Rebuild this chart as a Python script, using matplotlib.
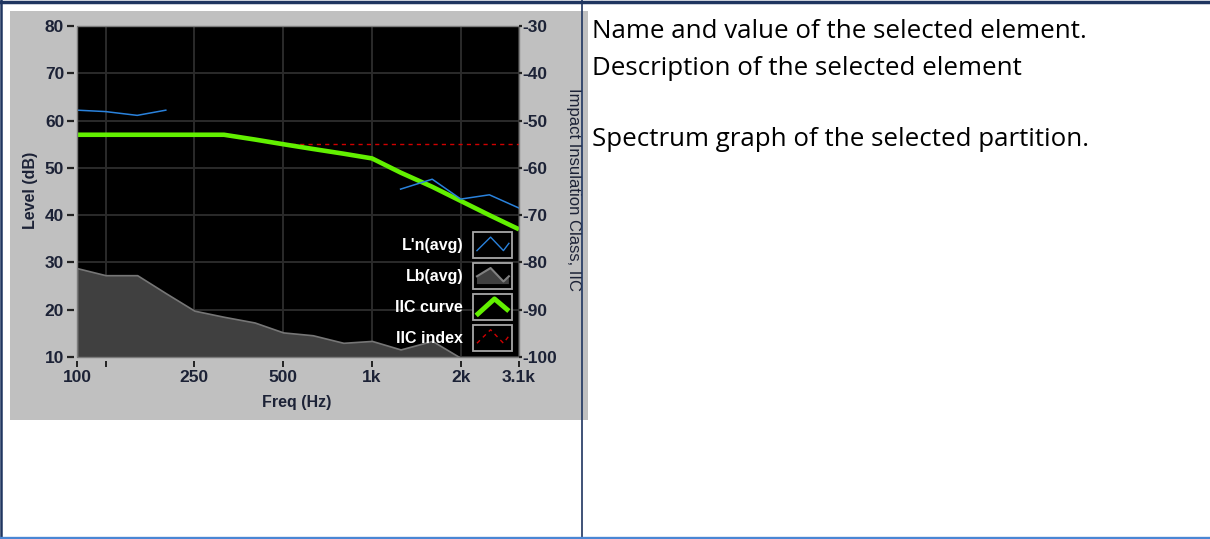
import numpy as np
import matplotlib
matplotlib.use("Agg")
import matplotlib.pyplot as plt
from matplotlib.patches import Rectangle, Polygon
from matplotlib.lines import Line2D
from matplotlib.legend_handler import HandlerBase

# 1/3-octave spectrum values
freqs = [100, 125, 160, 200, 250, 315, 400, 500, 630, 800, 1000, 1250, 1600, 2000, 2500, 3150]
ln_avg = [62.2, 61.9, 61.1, 62.2, np.nan, np.nan, np.nan, np.nan, np.nan, np.nan, np.nan,
          45.5, 47.6, 43.4, 44.3, 41.5]
lb_avg = [28.8, 27.3, 27.3, 23.5, 19.8, 18.5, 17.3, 15.2, 14.6, 13.0, 13.4, 11.6, 13.4, 9.8, 8.0, 8.0]
iic_curve = [57, 57, 57, 57, 57, 57, 56, 55, 54, 53, 52, 49, 46, 43, 40, 37]
iic_index = 55
iic_index_span = [500, 3150]

x_ticks = [100, 125, 250, 500, 1000, 2000, 3150]
x_tick_labels = ["100", "", "250", "500", "1k", "2k", "3.1k"]
level_ticks = [10, 20, 30, 40, 50, 60, 70, 80]
iic_ticks = [-100, -90, -80, -70, -60, -50, -40, -30]

legend_labels = ["L'n(avg)", "Lb(avg)", "IIC curve", "IIC index"]
notes = ["Name and value of the selected element.",
         "Description of the selected element",
         "",
         "Spectrum graph of the selected partition."]

W, H = 1210, 539
TXT = "#1c2236"
FS = 11.5
TICK_FS = 12.5
plt.rcParams["font.family"] = ["Liberation Sans", "DejaVu Sans"]


def fx(px):
    return px / W


def fy(py):
    return 1 - py / H


class ZigzagHandler(HandlerBase):
    """Legend glyph: framed box with a little zigzag sample."""

    def __init__(self, kind):
        super().__init__()
        self.kind = kind

    def create_artists(self, legend, orig_handle, xdescent, ydescent,
                       width, height, fontsize, trans):
        x0, y0 = -xdescent, -ydescent
        arts = [Rectangle((x0, y0), width, height, facecolor="black",
                          edgecolor="#a8a8a8", lw=1.3, transform=trans)]
        if self.kind == "green":
            px, py = [0.08, 0.55, 0.92], [0.18, 0.82, 0.35]
        elif self.kind == "fill":
            px, py = [0.1, 0.45, 0.78, 0.92], [0.5, 0.82, 0.3, 0.5]
        else:
            px, py = [0.1, 0.45, 0.78, 0.92], [0.3, 0.82, 0.3, 0.58]
        xs = [x0 + width * p for p in px]
        ys = [y0 + height * p for p in py]
        if self.kind == "fill":
            base = y0 + height * 0.2
            arts.append(Polygon(list(zip(xs, ys)) + [(xs[-1], base), (xs[0], base)],
                                closed=True, facecolor="#404040", edgecolor="none",
                                transform=trans))
            arts.append(Line2D(xs, ys, color="#808080", lw=1.5, transform=trans))
        elif self.kind == "green":
            arts.append(Line2D(xs, ys, color=orig_handle.get_color(), lw=3.5,
                               transform=trans, solid_capstyle="butt"))
        elif self.kind == "red":
            arts.append(Line2D(xs, ys, color=orig_handle.get_color(), lw=1.0,
                               ls=(0, (3, 3)), transform=trans))
        else:
            arts.append(Line2D(xs, ys, color=orig_handle.get_color(), lw=1.0, transform=trans))
        return arts


fig = plt.figure(figsize=(W / 100, H / 100), dpi=100, facecolor="white")

# page: grey chart panel behind the plot
fig.add_artist(Rectangle((fx(10), fy(420)), fx(588) - fx(10), fy(11) - fy(420),
                         transform=fig.transFigure, facecolor="#c0c0c0",
                         edgecolor="none", zorder=-5))

ax = fig.add_axes([fx(77), fy(357), fx(519) - fx(77), fy(26) - fy(357)])
ax.set_facecolor("black")
# spine offsets first: set_position resets the tick objects
for s in ax.spines.values():
    s.set_visible(False)
ax.spines["left"].set_position(("outward", 2.2))
ax.spines["bottom"].set_position(("outward", 3))

ax.set_xscale("log")
ax.set_xlim(freqs[0], freqs[-1])
ax.set_ylim(level_ticks[0], level_ticks[-1])

lb_fill = ax.fill_between(freqs, lb_avg, 0, facecolor="#404040", edgecolor="#767676",
                          lw=1.2, zorder=2)
red_line, = ax.plot(iic_index_span, [iic_index, iic_index], color="#d00000",
                    lw=1.0, ls=(0, (3, 3)), zorder=3)
green_line, = ax.plot(freqs, iic_curve, color="#62f000", lw=3.3, zorder=4,
                      solid_capstyle="butt")
blue_line, = ax.plot(freqs, ln_avg, color="#2a82dc", lw=1.1, zorder=5)

ax.minorticks_off()
ax.set_xticks(x_ticks, labels=x_tick_labels)
ax.set_yticks(level_ticks, labels=[str(v) for v in level_ticks])
ax.tick_params(axis="y", direction="out", length=5, width=1.6, pad=2, color="#222222",
               labelsize=TICK_FS, labelcolor=TXT)
ax.tick_params(axis="x", direction="out", length=4.5, width=1.4, pad=2, color="#222222",
               labelsize=TICK_FS, labelcolor=TXT)
for lab in ax.get_xticklabels() + ax.get_yticklabels():
    lab.set_fontweight("bold")
ax.grid(True, color="#2b2b2b", lw=1.4)
ax.set_axisbelow(True)
ax.add_patch(Rectangle((0, 0), 1, 1, transform=ax.transAxes, fill=False,
                       edgecolor="#7c7c7c", lw=1.0, zorder=6, clip_on=False))

ax2 = ax.twinx()
for s in ax2.spines.values():
    s.set_visible(False)
ax2.set_ylim(iic_ticks[0], iic_ticks[-1])
ax2.set_yticks(iic_ticks, labels=[str(v) for v in iic_ticks])
ax2.tick_params(axis="y", direction="out", length=2, width=1.6, pad=0.5, color="#222222",
                labelsize=TICK_FS, labelcolor=TXT)
for lab in ax2.get_yticklabels():
    lab.set_fontweight("bold")

handles = [blue_line, lb_fill, green_line, red_line]
kinds = ["blue", "fill", "green", "red"]
leg = ax.legend(handles, legend_labels, loc="lower right",
                bbox_to_anchor=(1 - 7 / 442, 6 / 331), borderaxespad=0, borderpad=0,
                frameon=False, markerfirst=False, handlelength=39 / 16,
                handleheight=2.12, handletextpad=0.62, labelspacing=0.31,
                prop={"weight": "bold", "size": FS}, labelcolor="white",
                handler_map={h: ZigzagHandler(k) for h, k in zip(handles, kinds)})
leg.set_zorder(10)

fig.text(fx(296.5), fy(402), "Freq (Hz)", ha="center", va="center",
         fontweight="bold", fontsize=FS, color=TXT)
fig.text(fx(30), fy(190), "Level (dB)", ha="center", va="center", rotation=90,
         fontweight="bold", fontsize=FS, color=TXT)
fig.text(fx(573), fy(189), "Impact Insulation Class, IIC", ha="center", va="center",
         rotation=270, fontsize=12, color=TXT)

# right-hand table cell text
baselines = [37.5, 75, 111, 146.5]
for txt, b in zip(notes, baselines):
    if txt:
        fig.text(fx(592), fy(b), txt, ha="left", va="baseline", fontsize=18.6,
                 family="Open Sans", color="black")

# table borders
navy = "#1f3560"
fig.add_artist(Line2D([0, 1], [fy(1.5), fy(1.5)], transform=fig.transFigure,
                      color=navy, lw=2.5, zorder=20))
fig.add_artist(Line2D([fx(1), fx(1)], [fy(0), fy(539)], transform=fig.transFigure,
                      color=navy, lw=1.8, zorder=20))
fig.add_artist(Line2D([fx(582), fx(582)], [fy(0), fy(537)], transform=fig.transFigure,
                      color=navy, lw=1.2, zorder=20))
fig.add_artist(Line2D([0, 1], [fy(537.5), fy(537.5)], transform=fig.transFigure,
                      color="#4a86d4", lw=2.4, zorder=20))

fig.savefig("out.png", dpi=100, facecolor="white")
